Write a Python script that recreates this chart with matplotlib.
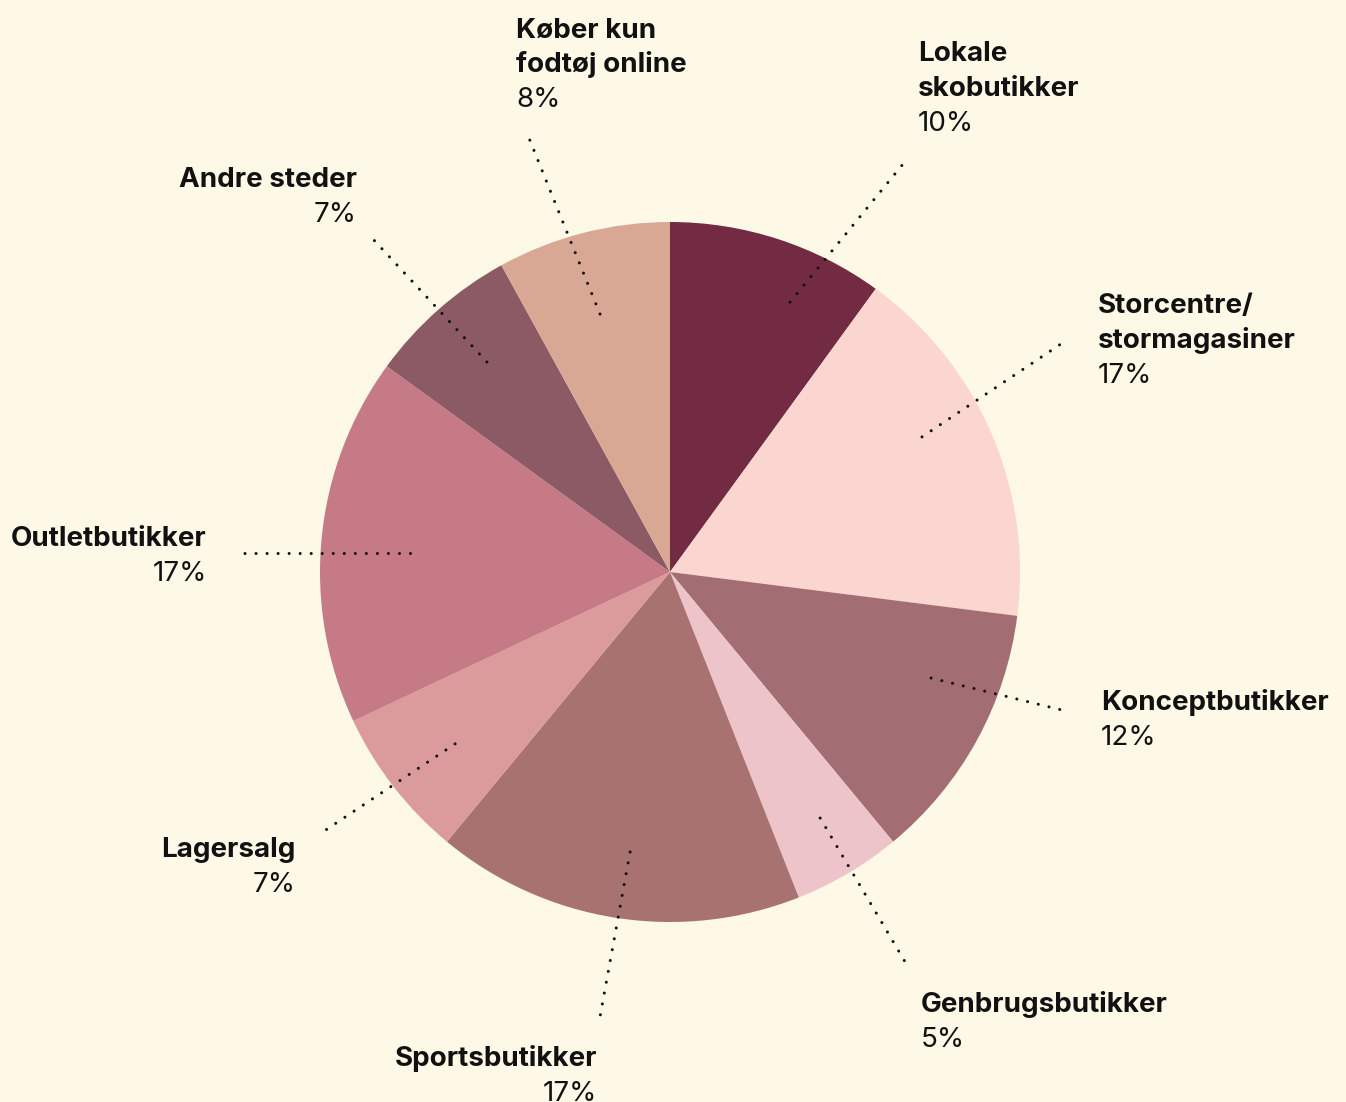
import matplotlib.pyplot as plt
import numpy as np

plt.rcParams['font.family'] = ['Inter', 'DejaVu Sans']

labels = ['Lokale\nskobutikker', 'Storcentre/\nstormagasiner', 'Konceptbutikker',
          'Genbrugsbutikker', 'Sportsbutikker', 'Lagersalg', 'Outletbutikker',
          'Andre steder', 'Køber kun\nfodtøj online']
values = [10, 17, 12, 5, 17, 7, 17, 7, 8]
colors = ['#722B43', '#FBD5CF', '#A36D74', '#ECC4CA', '#A87271',
          '#DB9A9B', '#C57A85', '#8B5A64', '#D9A895']

# layout of the leader lines and labels (pie radius = 1)
line_start = [(0.343, 0.771), (0.72, 0.386), (0.746, -0.303), (0.429, -0.703),
              (-0.114, -0.80), (-0.614, -0.491), (-0.743, 0.054),
              (-0.523, 0.60), (-0.20, 0.737)]
line_end = [(0.68, 1.183), (1.134, 0.663), (1.143, -0.40), (0.677, -1.123),
            (-0.20, -1.271), (-0.997, -0.746), (-1.237, 0.054),
            (-0.854, 0.957), (-0.403, 1.24)]
text_pos = [(0.709, 1.46), (1.223, 0.740), (1.231, -0.394), (0.717, -1.257),
            (-0.209, -1.411), (-1.069, -0.814), (-1.323, 0.074),
            (-0.894, 1.100), (-0.440, 1.528)]
aligns = ['left', 'left', 'left', 'left', 'right', 'right', 'right', 'right', 'left']

bg = '#FEF8E7'
fig = plt.figure(figsize=(13.46, 11.02), dpi=100, facecolor=bg)
ax = fig.add_axes([0, 0, 1, 1])
ax.set_facecolor(bg)

wedges, _ = ax.pie(values, colors=colors, startangle=90, counterclock=False,
                   radius=1, wedgeprops=dict(linewidth=0))

line_h = 0.1
for lab, v, st, end, tp, ha in zip(labels, values, line_start, line_end, text_pos, aligns):
    ax.plot([st[0], end[0]], [st[1], end[1]], color='#111111', lw=2.2,
            linestyle=(0, (0.01, 3.6)), dash_capstyle='round', zorder=3)
    lines = lab.split('\n')
    for i, ln in enumerate(lines):
        ax.text(tp[0], tp[1] - i * line_h, ln, ha=ha, va='baseline',
                fontsize=20, fontweight='bold', color='#111111')
    ax.text(tp[0], tp[1] - len(lines) * line_h, f'{v}%', ha=ha, va='baseline',
            fontsize=20, color='#111111')

ax.set_xlim(-670 / 350, (1346 - 670) / 350)
ax.set_ylim((572 - 1102) / 350, 572 / 350)
ax.set_aspect('equal')
ax.axis('off')

fig.savefig('out.png', dpi=100, facecolor=bg)
